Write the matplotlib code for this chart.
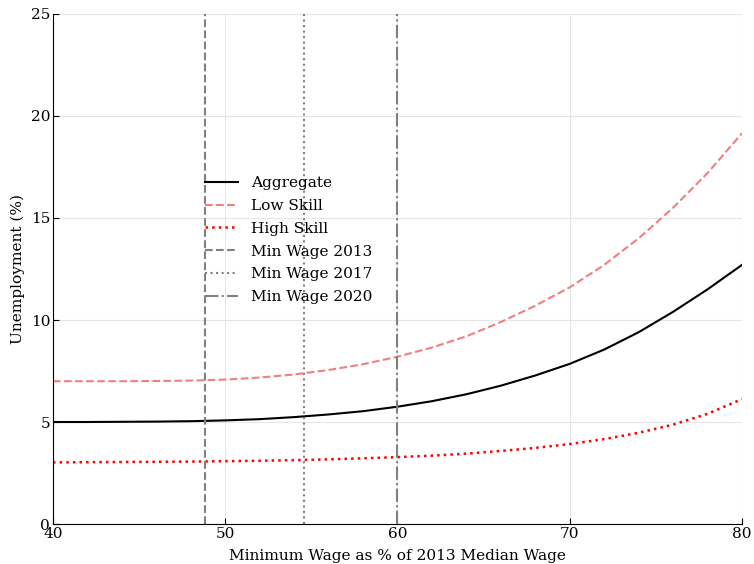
import matplotlib
matplotlib.use('Agg')
from matplotlib import pyplot as plt

# minimum wage as % of 2013 median wage
wage = [40, 42, 44, 46, 48, 50, 52, 54, 56, 58, 60,
        62, 64, 66, 68, 70, 72, 74, 76, 78, 80]
# unemployment (%)
aggregate = [5.00, 5.00, 5.01, 5.02, 5.04, 5.08, 5.14, 5.24, 5.37, 5.53, 5.75,
             6.02, 6.36, 6.78, 7.28, 7.85, 8.55, 9.40, 10.40, 11.50, 12.70]
low_skill = [7.00, 7.00, 7.00, 7.01, 7.03, 7.08, 7.18, 7.33, 7.55, 7.83, 8.20,
             8.65, 9.20, 9.90, 10.70, 11.60, 12.70, 14.00, 15.50, 17.20, 19.15]
high_skill = [3.02, 3.03, 3.04, 3.05, 3.06, 3.08, 3.10, 3.13, 3.17, 3.22, 3.28,
              3.35, 3.45, 3.58, 3.73, 3.92, 4.16, 4.47, 4.87, 5.40, 6.12]

min_wage_years = ['2013', '2017', '2020']
min_wage_values = [48.8, 54.6, 60.0]
min_wage_styles = ['--', ':', '-.']

plt.rcParams['font.family'] = 'DejaVu Serif'
plt.rcParams['font.size'] = 11.1

fig = plt.figure(figsize=(7.54, 5.64), dpi=100)
ax = fig.add_axes([0.0703, 0.0709, 0.9137, 0.9043])

ax.plot(wage, aggregate, color='black', lw=1.5, label='Aggregate')
ax.plot(wage, low_skill, color='lightcoral', ls='--', lw=1.5, label='Low Skill')
ax.plot(wage, high_skill, color='red', ls=':', lw=1.8, label='High Skill')
for yr, v, st in zip(min_wage_years, min_wage_values, min_wage_styles):
    ax.axvline(v, color='grey', ls=st, lw=1.5, label='Min Wage ' + yr)

ax.set_xlim(40, 80)
ax.set_ylim(0, 25)
ax.set_xticks([40, 50, 60, 70, 80])
ax.set_yticks([0, 5, 10, 15, 20, 25])
ax.grid(True, color='#e6e6e6', lw=0.8)
ax.set_axisbelow(True)
for s in ['top', 'right']:
    ax.spines[s].set_visible(False)
ax.tick_params(direction='in', length=4, pad=2)

ax.set_xlabel('Minimum Wage as % of 2013 Median Wage', labelpad=6)
ax.set_ylabel('Unemployment (%)', labelpad=4)

ax.legend(loc='upper left', bbox_to_anchor=(0.22, 0.682), frameon=False,
          borderpad=0, borderaxespad=0, handlelength=2.2, labelspacing=0.57)

plt.savefig('out.png', dpi=100)
